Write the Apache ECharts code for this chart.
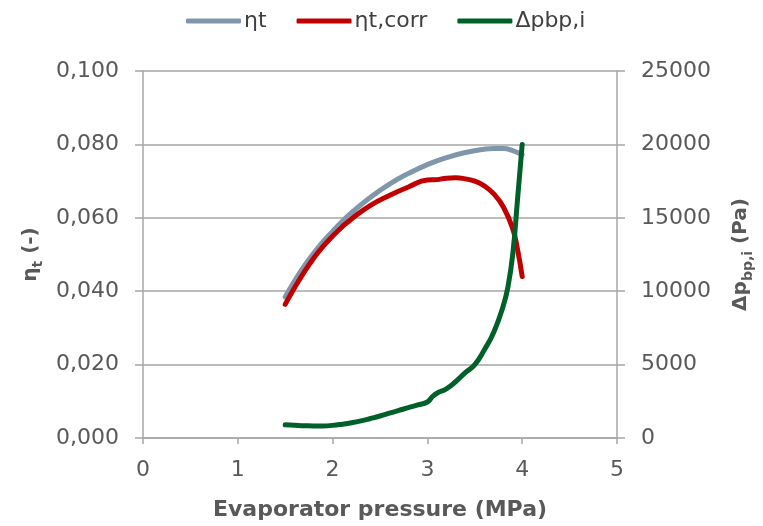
<!DOCTYPE html>
<html>
<head>
<meta charset="utf-8">
<script src="https://cdn.jsdelivr.net/npm/echarts@6/dist/echarts.min.js"></script>
<style>html,body{margin:0;padding:0;background:#fff}#c{width:763px;height:526px}</style>
</head>
<body>
<div id="c"></div>
<script>
// Evaporator pressure (MPa)
const pressureEta = [1.5,1.6,1.7,1.8,1.9,2.0,2.1,2.2,2.4,2.6,2.8,3.0,3.2,3.4,3.6,3.7,3.8,3.9,4.0];
const etaT = [0.0384,0.0428,0.0468,0.0503,0.0535,0.0563,0.0590,0.0614,0.0656,0.0692,0.0721,0.0745,0.0764,0.0778,0.0787,0.0789,0.0789,0.0783,0.0772];

const pressureCorr = [1.5,1.6,1.7,1.8,1.9,2.0,2.1,2.2,2.4,2.6,2.8,3.0,3.1,3.2,3.3,3.4,3.5,3.6,3.7,3.8,3.9,3.95,4.0];
const etaTCorr = [0.0364,0.0410,0.0452,0.0490,0.0522,0.0550,0.0575,0.0597,0.0634,0.0661,0.0684,0.0703,0.0704,0.0708,0.0709,0.0706,0.0700,0.0687,0.0665,0.0630,0.0570,0.0515,0.0440];

const pressureDp = [1.5,1.6,1.7,1.8,1.9,2.0,2.1,2.2,2.3,2.4,2.5,2.6,2.7,2.8,2.9,3.0,3.05,3.1,3.2,3.3,3.4,3.5,3.6,3.7,3.8,3.85,3.9,3.95,4.0];
const dpBp = [900,870,840,820,820,860,940,1040,1170,1330,1500,1690,1880,2070,2250,2450,2800,3050,3350,3850,4450,5000,6000,7200,9000,10300,12500,16200,20000];

const seriesNames = ['ηt','ηt,corr','Δpbp,i'];
const xTicks = {min:0, max:5, interval:1};
const leftTicks = {min:0, max:0.1, interval:0.02};
const rightTicks = {min:0, max:25000, interval:5000};

const zip = (xs, ys) => xs.map((x,i)=>[x, ys[i]]);

const axisColor = '#a6a6a6';
const labelColor = '#595959';
const font = 'DejaVu Sans';

const nameRich = {
  a:{fontFamily:font, fontSize:20, fontWeight:'bold', color:labelColor, lineHeight:26, verticalAlign:'bottom'},
  s:{fontFamily:font, fontSize:14, fontWeight:'bold', color:labelColor, lineHeight:26, verticalAlign:'bottom', padding:[0,0,-4,0]}
};

const chart = echarts.init(document.getElementById('c'));
chart.setOption({
  animation:false,
  backgroundColor:'#fff',
  textStyle:{fontFamily:font},
  grid:{left:143, right:145, top:71, bottom:87, containLabel:false},
  legend:{
    top:5, left:181,
    itemWidth:55, itemHeight:5, itemGap:30,
    icon:'roundRect',
    textStyle:{fontFamily:font, fontSize:22, color:'#404040', padding:[0,0,0,-2]},
    data:seriesNames
  },
  xAxis:{
    type:'value', min:xTicks.min, max:xTicks.max, interval:xTicks.interval,
    name:'Evaporator pressure (MPa)', nameLocation:'middle', nameGap:61,
    nameTextStyle:{fontFamily:font, fontSize:22, fontWeight:'bold', color:labelColor},
    axisLine:{show:true, lineStyle:{color:axisColor, width:1.5}},
    axisTick:{show:true, length:6, lineStyle:{color:axisColor, width:1.5}},
    axisLabel:{fontFamily:font, fontSize:22, color:labelColor, margin:21},
    splitLine:{show:false}
  },
  yAxis:[{
    type:'value', position:'left', min:leftTicks.min, max:leftTicks.max, interval:leftTicks.interval,
    name:'{a|η}{s|t}{a| (-)}', nameLocation:'middle', nameGap:96, nameRotate:90,
    nameTextStyle:{rich:nameRich},
    axisLine:{show:true, lineStyle:{color:axisColor, width:1.5}},
    axisTick:{show:true, inside:false, length:8, lineStyle:{color:axisColor, width:1.5}},
    axisLabel:{fontFamily:font, fontSize:22, color:labelColor, margin:24,
      formatter:v=>v.toFixed(3).replace('.',',')},
    splitLine:{show:true, lineStyle:{color:axisColor, width:1.5}}
  },{
    type:'value', position:'right', min:rightTicks.min, max:rightTicks.max, interval:rightTicks.interval,
    name:'{a|Δp}{s|bp,i}{a| (Pa)}', nameLocation:'middle', nameGap:108, nameRotate:90,
    nameTextStyle:{rich:nameRich},
    axisLine:{show:true, lineStyle:{color:axisColor, width:1.5}},
    axisTick:{show:true, inside:false, length:8, lineStyle:{color:axisColor, width:1.5}},
    axisLabel:{fontFamily:font, fontSize:22, color:labelColor, margin:24, formatter:v=>String(v)},
    splitLine:{show:false}
  }],
  series:[
    {name:seriesNames[0], type:'line', yAxisIndex:0, data:zip(pressureEta, etaT), showSymbol:false, smooth:true,
      itemStyle:{color:'#8096aa'}, lineStyle:{color:'#8096aa', width:5, cap:'round'}},
    {name:seriesNames[1], type:'line', yAxisIndex:0, data:zip(pressureCorr, etaTCorr), showSymbol:false, smooth:true,
      itemStyle:{color:'#c00000'}, lineStyle:{color:'#c00000', width:5, cap:'round'}},
    {name:seriesNames[2], type:'line', yAxisIndex:1, data:zip(pressureDp, dpBp), showSymbol:false, smooth:true,
      itemStyle:{color:'#00602a'}, lineStyle:{color:'#00602a', width:5, cap:'round'}}
  ]
});
</script>
</body>
</html>
